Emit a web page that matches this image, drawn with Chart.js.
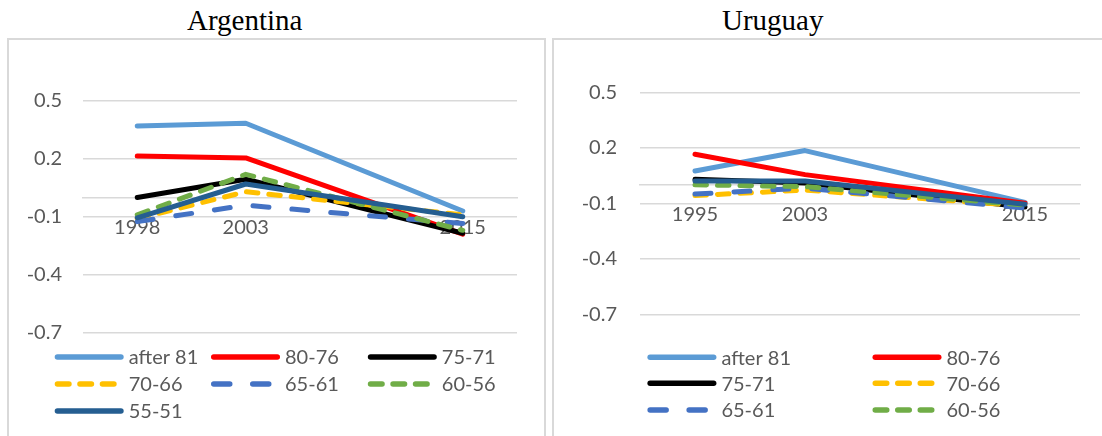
<!DOCTYPE html>
<html>
<head>
<meta charset="utf-8">
<script src="https://cdn.jsdelivr.net/npm/chart.js@4.4.1/dist/chart.umd.min.js"></script>
<style>
  html, body { margin: 0; padding: 0; background: #ffffff; }
  body { width: 1102px; height: 436px; overflow: hidden; position: relative; }
  .box { position: absolute; border: 2px solid #d9d9d9; box-sizing: border-box; }
  .ttl { position: absolute; font-family: 'Liberation Serif', serif; font-size: 29px; line-height: 29px; color: #000; white-space: nowrap; }
  canvas { position: absolute; top: 0; }
</style>
</head>
<body>
<div class="box" style="left:7px; top:38px; width:539px; height:440px;"></div>
<div class="box" style="left:552px; top:38px; width:600px; height:440px;"></div>
<div class="ttl" style="left:187px; top:6px;">Argentina</div>
<div class="ttl" style="left:722px; top:6px;">Uruguay</div>
<canvas id="cArg" width="550" height="436" style="left:0px;"></canvas>
<canvas id="cUru" width="552" height="436" style="left:550px;"></canvas>
<script>
// ---- data ----
const seriesNames = ['after 81', '80-76', '75-71', '70-66', '65-61', '60-56', '55-51'];
const argCategories = ['1998', '2003', '', '2015'];
const uruCategories = ['1995', '2003', '', '2015'];
const yTickValues = [-0.7, -0.4, -0.1, 0.2, 0.5];

const argAfter81 = [0.37, 0.385, null, -0.07];
const arg8076 = [0.215, 0.205, null, -0.19];
const arg7571 = [0.0, 0.095, null, -0.185];
const arg7066 = [-0.11, 0.03, null, -0.09];
const arg6561 = [-0.125, -0.04, null, -0.135];
const arg6056 = [-0.09, 0.12, null, -0.17];
const arg5551 = [-0.105, 0.07, null, -0.1];

const uruAfter81 = [0.075, 0.185, null, -0.095];
const uru8076 = [0.165, 0.055, null, -0.1];
const uru7571 = [0.03, 0.01, null, -0.12];
const uru7066 = [-0.058, -0.028, null, -0.115];
const uru6561 = [-0.05, -0.018, null, -0.125];
const uru6056 = [0.0, -0.01, null, -0.11];
const uru5551 = [0.02, 0.02, null, -0.105];

// ---- styles ----
const seriesColors = ['#5B9BD5', '#FF0000', '#000000', '#FFC000', '#4472C4', '#70AD47', '#255E91'];
const seriesDashes = [[], [], [], [11.5, 11], [16, 23], [11.5, 11], []];
const FONT = 'Lato';
const TXT = '#595959';
const GRID = '#d9d9d9';

function makeDatasets(arrays) {
  return arrays.map((arr, i) => ({
    label: seriesNames[i],
    data: arr,
    borderColor: seriesColors[i],
    backgroundColor: seriesColors[i],
    borderWidth: 5,
    borderDash: seriesDashes[i],
    borderCapStyle: 'round',
    borderJoinStyle: 'round',
    pointRadius: 0,
    pointHoverRadius: 0,
    spanGaps: true,
    tension: 0,
    order: arrays.length - i
  }));
}

const gridLegend = {
  id: 'gridLegend',
  afterDraw(chart, args, opts) {
    const ctx = chart.ctx;
    ctx.save();
    opts.items.forEach((dsIndex, k) => {
      const ds = chart.data.datasets[dsIndex];
      const col = k % opts.cols.length;
      const row = Math.floor(k / opts.cols.length);
      const x0 = opts.cols[col];
      const y = opts.rows[row];
      const lw = ds.borderWidth + 0.5;
      ctx.strokeStyle = ds.borderColor;
      ctx.lineWidth = lw;
      ctx.lineCap = 'round';
      ctx.setLineDash(ds.borderDash || []);
      ctx.beginPath();
      ctx.moveTo(x0 + lw / 2, y);
      ctx.lineTo(x0 + opts.lineLen - lw / 2, y);
      ctx.stroke();
      ctx.setLineDash([]);
      ctx.fillStyle = TXT;
      ctx.font = '20px ' + FONT;
      ctx.textBaseline = 'middle';
      ctx.textAlign = 'left';
      ctx.fillText(ds.label, x0 + opts.textOffset, y + 1);
    });
    ctx.restore();
  }
};

function makeChart(id, categories, arrays, lay) {
  return new Chart(document.getElementById(id), {
    type: 'line',
    data: { labels: categories, datasets: makeDatasets(arrays) },
    plugins: [gridLegend],
    options: {
      responsive: false,
      animation: false,
      devicePixelRatio: 1,
      layout: { padding: lay.padding },
      plugins: {
        legend: { display: false },
        tooltip: { enabled: false },
        title: { display: false },
        gridLegend: lay.legend
      },
      scales: {
        x: {
          type: 'category',
          offset: true,
          position: { y: 0 },
          grid: { display: false, drawTicks: false },
          border: { display: true, color: GRID, width: 1.5 },
          ticks: { padding: 18, color: TXT, font: { family: FONT, size: 20 }, maxRotation: 0, autoSkip: false }
        },
        y: {
          type: 'linear',
          min: -0.7,
          max: 0.5,
          afterBuildTicks: s => { s.ticks = yTickValues.map(v => ({ value: v })); },
          afterFit: s => { s.width = lay.yWidth; },
          grid: { color: GRID, lineWidth: 1.5, drawTicks: false },
          border: { display: false },
          ticks: {
            padding: lay.yPad,
            color: TXT,
            font: { family: FONT, size: 20 },
            callback: v => Number(v).toFixed(1)
          }
        }
      }
    }
  });
}

makeChart('cArg', argCategories,
  [argAfter81, arg8076, arg7571, arg7066, arg6561, arg6056, arg5551],
  {
    padding: { left: 0, top: 101, right: 33, bottom: 103.4 },
    yWidth: 83, yPad: 21,
    legend: { items: [0, 1, 2, 3, 4, 5, 6], cols: [54.7, 211, 367.8], rows: [357, 384, 411], lineLen: 69, textOffset: 74 }
  });

makeChart('cUru', uruCategories,
  [uruAfter81, uru8076, uru7571, uru7066, uru6561, uru6056, uru5551],
  {
    padding: { left: 0, top: 92.3, right: 22, bottom: 121.7 },
    yWidth: 90, yPad: 23,
    legend: { items: [0, 1, 2, 3, 4, 5], cols: [97.4, 322.5], rows: [357.3, 383.3, 410], lineLen: 69, textOffset: 74 }
  });
</script>
</body>
</html>
